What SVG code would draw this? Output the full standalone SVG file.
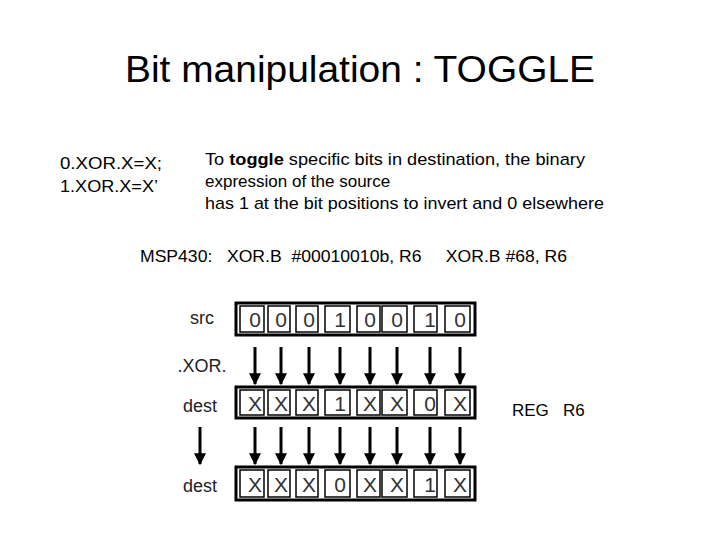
<svg xmlns="http://www.w3.org/2000/svg" width="720" height="540" viewBox="0 0 720 540">
<defs>
<style>
.t{font-family:"Liberation Sans",Arial,sans-serif;fill:#000}
.c{font-family:"Liberation Sans",Arial,sans-serif;font-size:21px;fill:#333;text-anchor:middle}
.l{font-family:"Liberation Sans",Arial,sans-serif;font-size:18px;fill:#222;text-anchor:middle}
.box{fill:#fff;stroke:#000;stroke-width:3}
.cell{fill:none;stroke:#000;stroke-width:1.5}
.ar{stroke:#000;stroke-width:3}
</style>
<marker id="ah" viewBox="0 0 10 10" refX="9" refY="5" markerWidth="4.7" markerHeight="4" orient="auto" markerUnits="strokeWidth"><path d="M0,0L10,5L0,10z" fill="#000"/></marker>
</defs>
<rect width="720" height="540" fill="#fff"/>
<text class="t" x="125" y="82" font-size="37" textLength="470" lengthAdjust="spacingAndGlyphs" font-family="'Open Sans','Liberation Sans',sans-serif">Bit manipulation : TOGGLE</text>
<text class="t" x="60" y="169" font-size="16.5" textLength="102" lengthAdjust="spacingAndGlyphs">0.XOR.X=X;</text>
<text class="t" x="60" y="192" font-size="16.5" textLength="98" lengthAdjust="spacingAndGlyphs">1.XOR.X=X’</text>
<text class="t" x="205" y="165" font-size="17" textLength="380" lengthAdjust="spacingAndGlyphs">To <tspan font-weight="bold">toggle</tspan> specific bits in destination, the binary</text>
<text class="t" x="205" y="187" font-size="17">expression of the source</text>
<text class="t" x="205" y="209" font-size="17" textLength="399" lengthAdjust="spacingAndGlyphs">has 1 at the bit positions to invert and 0 elsewhere</text>
<text class="t" x="140" y="262" font-size="17" xml:space="preserve" textLength="427" lengthAdjust="spacingAndGlyphs">MSP430:   XOR.B  #00010010b, R6     XOR.B #68, R6</text>
<text class="t" x="512" y="416" font-size="17" xml:space="preserve">REG   R6</text>
<g id="labels">
<text class="l" x="202" y="324">src</text>
<text class="l" x="202" y="372">.XOR.</text>
<text class="l" x="200" y="412">dest</text>
<text class="l" x="200" y="492">dest</text>
</g>
<g id="src">
<rect class="box" x="236" y="303" width="239" height="32"/>
<g class="cell"><rect x="240" y="306" width="24" height="26"/><rect x="268" y="306" width="22" height="26"/><rect x="296" y="306" width="22" height="26"/><rect x="325" y="306" width="25" height="26"/><rect x="357" y="306" width="23" height="26"/><rect x="382" y="306" width="25" height="26"/><rect x="414" y="306" width="23" height="26"/><rect x="445" y="306" width="25" height="26"/></g>
<text class="c" x="255" y="327">0</text><text class="c" x="281" y="327">0</text><text class="c" x="309" y="327">0</text><text class="c" x="340" y="327">1</text><text class="c" x="370" y="327">0</text><text class="c" x="397" y="327">0</text><text class="c" x="430" y="327">1</text><text class="c" x="460" y="327">0</text>
</g>
<g id="dest1">
<rect class="box" x="236" y="387" width="239" height="31"/>
<g class="cell"><rect x="240" y="390" width="24" height="25"/><rect x="268" y="390" width="22" height="25"/><rect x="296" y="390" width="22" height="25"/><rect x="325" y="390" width="25" height="25"/><rect x="357" y="390" width="23" height="25"/><rect x="382" y="390" width="25" height="25"/><rect x="414" y="390" width="23" height="25"/><rect x="445" y="390" width="25" height="25"/></g>
<text class="c" x="255" y="411">X</text><text class="c" x="281" y="411">X</text><text class="c" x="309" y="411">X</text><text class="c" x="340" y="411">1</text><text class="c" x="370" y="411">X</text><text class="c" x="397" y="411">X</text><text class="c" x="430" y="411">0</text><text class="c" x="460" y="411">X</text>
</g>
<g id="dest2">
<rect class="box" x="236" y="467" width="239" height="33"/>
<g class="cell"><rect x="240" y="470" width="24" height="27"/><rect x="268" y="470" width="22" height="27"/><rect x="296" y="470" width="22" height="27"/><rect x="325" y="470" width="25" height="27"/><rect x="357" y="470" width="23" height="27"/><rect x="382" y="470" width="25" height="27"/><rect x="414" y="470" width="23" height="27"/><rect x="445" y="470" width="25" height="27"/></g>
<text class="c" x="255" y="492">X</text><text class="c" x="281" y="492">X</text><text class="c" x="309" y="492">X</text><text class="c" x="340" y="492">0</text><text class="c" x="370" y="492">X</text><text class="c" x="397" y="492">X</text><text class="c" x="430" y="492">1</text><text class="c" x="460" y="492">X</text>
</g>
<g id="connectors" class="ar" marker-end="url(#ah)">
<line x1="255" y1="347" x2="255" y2="384"/><line x1="281" y1="347" x2="281" y2="384"/><line x1="309" y1="347" x2="309" y2="384"/><line x1="340" y1="347" x2="340" y2="384"/><line x1="370" y1="347" x2="370" y2="384"/><line x1="397" y1="347" x2="397" y2="384"/><line x1="430" y1="347" x2="430" y2="384"/><line x1="460" y1="347" x2="460" y2="384"/>
<line x1="255" y1="427" x2="255" y2="464"/><line x1="281" y1="427" x2="281" y2="464"/><line x1="309" y1="427" x2="309" y2="464"/><line x1="340" y1="427" x2="340" y2="464"/><line x1="370" y1="427" x2="370" y2="464"/><line x1="397" y1="427" x2="397" y2="464"/><line x1="430" y1="427" x2="430" y2="464"/><line x1="460" y1="427" x2="460" y2="464"/>
<line x1="200" y1="427" x2="200" y2="464"/>
</g>
</svg>
